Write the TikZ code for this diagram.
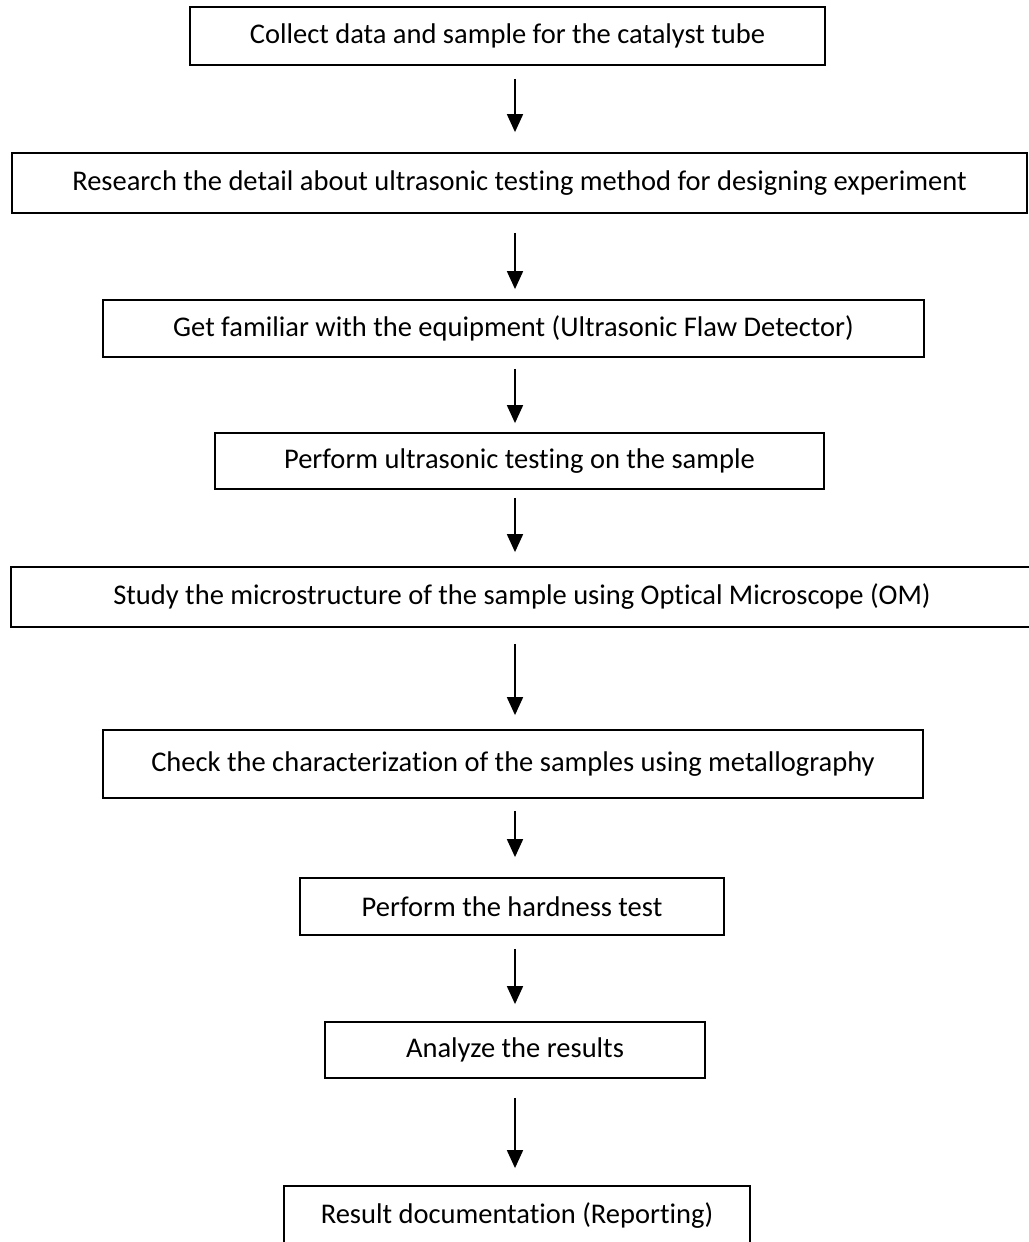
\documentclass[tikz,border=0pt]{standalone}
\usepackage{fontspec}
\setmainfont{Carlito}[Ligatures={NoCommon}]
\usetikzlibrary{arrows.meta}
\tikzset{
  box/.style={draw, line width=1.8pt, inner sep=0pt, fill=white,
    font=\fontsize{28.5}{32}\selectfont},
  arr/.style={line width=1.8pt, -{Triangle[width=16pt,length=18pt]}}
}
\begin{document}
\begin{tikzpicture}[x=1pt,y=-1pt]
\useasboundingbox (0,0) rectangle (1028,1242);
\coordinate (axis) at (515,0);
\node[box, minimum width=635pt, minimum height=58pt] (b1) at (507.5,36) {Collect data and sample for the catalyst tube};
\node[box, minimum width=1015pt, minimum height=60pt] (b2) at (519.5,183) {Research the detail about ultrasonic testing method for designing experiment};
\node[box, minimum width=821pt, minimum height=57pt] (b3) at (513.5,328.5) {Get familiar with the equipment (Ultrasonic Flaw Detector)};
\node[box, minimum width=609pt, minimum height=56pt] (b4) at (519.5,461) {Perform ultrasonic testing on the sample};
\node[box, minimum width=1022pt, minimum height=60pt] (b5) at (522,597) {Study the microstructure of the sample using Optical Microscope (OM)};
\node[box, minimum width=820pt, minimum height=68pt] (b6) at (513,764) {Check the characterization of the samples using metallography};
\node[box, minimum width=424pt, minimum height=57pt] (b7) at (512,906.5) {Perform the hardness test};
\node[box, minimum width=380pt, minimum height=56pt] (b8) at (515,1050) {Analyze the results};
\node[box, minimum width=466pt, minimum height=60pt] (b9) at (517,1216) {Result documentation (Reporting)};
\draw[arr] ([yshift=-13pt]b1.south -| axis) -- ([yshift=20pt]b2.north -| axis);
\draw[arr] ([yshift=-19pt]b2.south -| axis) -- ([yshift=10pt]b3.north -| axis);
\draw[arr] ([yshift=-11pt]b3.south -| axis) -- ([yshift=9pt]b4.north -| axis);
\draw[arr] ([yshift=-8pt]b4.south -| axis) -- ([yshift=14pt]b5.north -| axis);
\draw[arr] ([yshift=-16pt]b5.south -| axis) -- ([yshift=14pt]b6.north -| axis);
\draw[arr] ([yshift=-12pt]b6.south -| axis) -- ([yshift=20pt]b7.north -| axis);
\draw[arr] ([yshift=-13pt]b7.south -| axis) -- ([yshift=17pt]b8.north -| axis);
\draw[arr] ([yshift=-19pt]b8.south -| axis) -- ([yshift=17pt]b9.north -| axis);
\end{tikzpicture}
\end{document}
